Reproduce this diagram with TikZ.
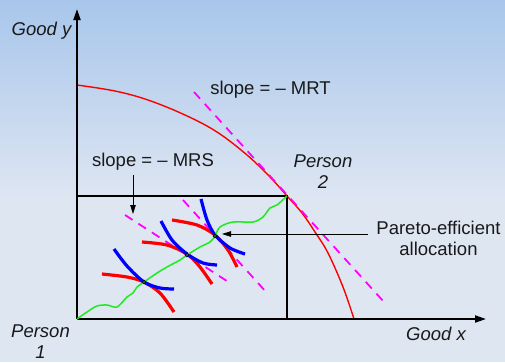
\documentclass[tikz,border=0pt]{standalone}
\usepackage{fontspec}
\setmainfont{Liberation Sans}
\usetikzlibrary{arrows.meta}
\definecolor{bgtop}{RGB}{168,198,235}
\definecolor{bgbot}{RGB}{222,230,242}
\definecolor{ppfred}{RGB}{255,0,0}
\definecolor{icblue}{RGB}{0,0,255}
\definecolor{ccgreen}{RGB}{30,235,30}
\definecolor{magd}{RGB}{255,0,255}
\definecolor{txt}{RGB}{25,25,25}
\begin{document}
\begin{tikzpicture}[x=1pt,y=-1pt,
  lbl/.style={font=\fontsize{18.5}{21}\selectfont, text=txt, inner sep=0pt, align=center},
  ilbl/.style={lbl, font=\fontsize{18.5}{21}\selectfont\itshape},
  axisline/.style={line width=2pt, -{Triangle[length=11pt,width=7pt]}},
  boxline/.style={line width=2pt},
  ppfline/.style={ppfred, line width=1.4pt},
  magdash/.style={magd, line width=1.8pt, dash pattern=on 9pt off 7pt},
  redic/.style={ppfred, line width=3.2pt},
  blueic/.style={icblue, line width=3.2pt},
  contract/.style={ccgreen, line width=1.5pt},
  tangpt/.style={circle, draw=black, line width=0.9pt, inner sep=0pt, minimum size=3.4pt},
  ptr/.style={line width=0.8pt, -{Triangle[length=9pt,width=5.5pt]}}
]
\useasboundingbox (0,0) rectangle (505,362);
% background
\shade[top color=bgtop, bottom color=bgbot] (0,0) rectangle (505,200);
\fill[bgbot] (0,199.5) rectangle (505,362);

% coordinates
\coordinate (O) at (77,319);
\coordinate (ytop) at (77,9);
\coordinate (xend) at (486,319);
\coordinate (P2) at (287,196);
\coordinate (boxTL) at (77,196);
\coordinate (boxBR) at (287,319);

% PPF
\draw[ppfline] plot[smooth, tension=0.6] coordinates {(77,85) (115,91) (148,100) (185,115) (217,132) (247,155) (270,177) (287,196) (302,213) (315,232) (328,253) (343,287) (354,319)};

% MRT tangent
\coordinate (mrtA) at (194,92);
\coordinate (mrtB) at (384,302);
\draw[magdash] (mrtA) -- (mrtB);

% MRS lines
\coordinate (mrsLA) at (125,215);
\coordinate (mrsLB) at (230,283);
\draw[magdash] (mrsLA) -- (mrsLB);
\coordinate (mrsLC) at (183,200);
\coordinate (mrsLD) at (267,293);
\draw[magdash] (mrsLC) -- (mrsLD);

% box
\draw[boxline] (boxTL) -- (P2) -- (boxBR);

% axes
\draw[axisline] (O) -- (ytop);
\draw[axisline] (O) -- (xend);

% indifference curves
\draw[redic] plot[smooth] coordinates {(102,274) (127,277) (144,282) (160,293) (174,312)};
\draw[blueic] plot[smooth] coordinates {(114,249) (127,266) (144,282) (160,288) (174,289)};
\draw[redic] plot[smooth] coordinates {(142,242) (167,245) (187,254) (200,267) (212,284)};
\draw[blueic] plot[smooth] coordinates {(161,221) (172,240) (187,254) (203,263) (217,265)};
\draw[redic] plot[smooth] coordinates {(172,220) (197,225) (215,235) (228,250) (237,267)};
\draw[blueic] plot[smooth] coordinates {(201,199) (207,220) (215,235) (230,248) (245,254)};

% contract curve
\draw[contract] plot[smooth, tension=0.5] coordinates {(77,319) (87,312) (97,306) (107,305) (117,307) (127,297) (133,293) (137,287) (144,282) (157,273) (167,267) (180,260) (187,255) (200,247) (210,242) (215,236) (220,227) (233,222) (253,222) (263,217) (270,208) (277,205) (287,196)};

% tangency points
\node[tangpt] (t1) at (144,282) {};
\node[tangpt] (t2) at (187,255) {};
\node[tangpt] (t3) at (215,236) {};

% labels
\node[ilbl, anchor=center] (goody) at (41.5,31) {Good y};
\node[ilbl, anchor=base] (goodx) at (436,340) {Good x};
\node[ilbl, anchor=center] (p1) at (40.5,341.5) {Person\\1};
\node[ilbl, anchor=center] (p2) at (323,172) {Person\\2};
\node[lbl, anchor=base] (mrt) at (270.5,94.5) {slope = – MRT};
\node[lbl, anchor=base] (mrs) at (153,166.5) {slope = – MRS};
\node[lbl, anchor=center] (pareto) at (438.5,238) {Pareto-efficient\\allocation};

% pointers
\coordinate (mrsArrA) at (133,175);
\coordinate (mrsArrB) at (133,214);
\draw[ptr] (mrsArrA) -- (mrsArrB);
\coordinate (parA) at (368,234);
\coordinate (parB) at (222,234);
\draw[ptr] (parA) -- (parB);
\end{tikzpicture}
\end{document}
